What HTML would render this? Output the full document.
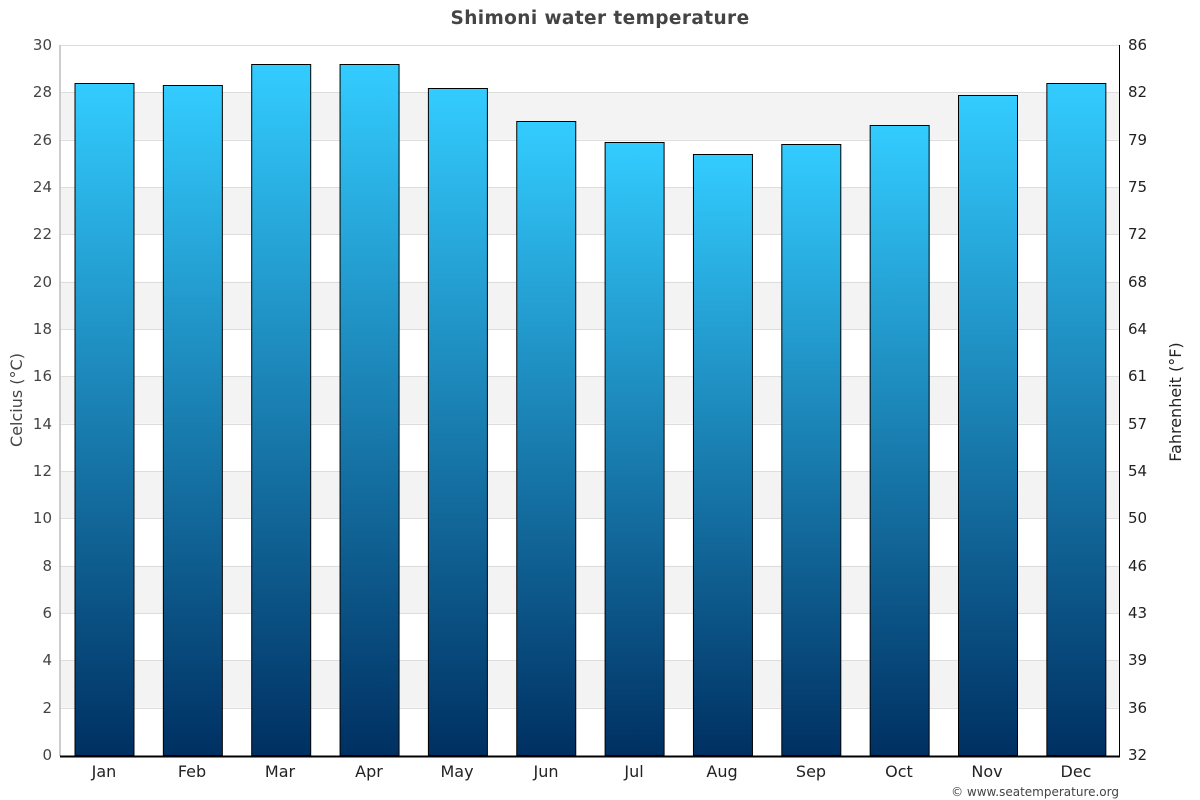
<!DOCTYPE html>
<html><head><meta charset="utf-8"><style>
html,body{margin:0;padding:0;background:#fff}
svg{display:block;font-family:"DejaVu Sans","Liberation Sans",sans-serif}
</style></head><body>
<svg id="s" width="1200" height="800" xmlns="http://www.w3.org/2000/svg">
<defs><linearGradient id="g" x1="0" y1="0" x2="0" y2="1">
<stop offset="0" stop-color="#33ccff"/><stop offset="1" stop-color="#003062"/></linearGradient></defs>
<rect width="1200" height="800" fill="#fff"/>
<g id="bands"></g>
<g id="bars"></g>
<line x1="60" y1="45" x2="60" y2="756" stroke="#999" stroke-width="1"/>
<line x1="1119.5" y1="45" x2="1119.5" y2="756" stroke="#000" stroke-width="1"/>
<line x1="60" y1="756.5" x2="1120" y2="756.5" stroke="#000" stroke-width="2"/>
<text x="600" y="24" text-anchor="middle" font-size="18.5" font-weight="bold" fill="#444" letter-spacing="0.4">Shimoni water temperature</text>
<g font-size="15" fill="#444" text-anchor="end">
<text x="52" y="50">30</text><text x="52" y="97">28</text><text x="52" y="145">26</text><text x="52" y="192">24</text>
<text x="52" y="239">22</text><text x="52" y="287">20</text><text x="52" y="334">18</text><text x="52" y="381">16</text>
<text x="52" y="429">14</text><text x="52" y="476">12</text><text x="52" y="523">10</text><text x="52" y="571">8</text>
<text x="52" y="618">6</text><text x="52" y="665">4</text><text x="52" y="713">2</text><text x="52" y="760">0</text>
</g>
<g font-size="15" fill="#222" text-anchor="start">
<text x="1128" y="50">86</text><text x="1128" y="97">82</text><text x="1128" y="145">79</text><text x="1128" y="192">75</text>
<text x="1128" y="239">72</text><text x="1128" y="287">68</text><text x="1128" y="334">64</text><text x="1128" y="381">61</text>
<text x="1128" y="429">57</text><text x="1128" y="476">54</text><text x="1128" y="523">50</text><text x="1128" y="571">46</text>
<text x="1128" y="618">43</text><text x="1128" y="665">39</text><text x="1128" y="713">36</text><text x="1128" y="760">32</text>
</g>
<g font-size="16" fill="#222" text-anchor="middle">
<text x="104" y="777">Jan</text><text x="192" y="777">Feb</text><text x="280" y="777">Mar</text><text x="369" y="777">Apr</text>
<text x="457" y="777">May</text><text x="546" y="777">Jun</text><text x="634" y="777">Jul</text><text x="722" y="777">Aug</text>
<text x="811" y="777">Sep</text><text x="899" y="777">Oct</text><text x="987" y="777">Nov</text><text x="1076" y="777">Dec</text>
</g>
<text transform="translate(22,400) rotate(-90)" text-anchor="middle" font-size="16" fill="#444">Celcius (°C)</text>
<text transform="translate(1181,402) rotate(-90)" text-anchor="middle" font-size="16" fill="#222">Fahrenheit (°F)</text>
<text x="1119" y="796" text-anchor="end" font-size="12" fill="#444">© www.seatemperature.org</text>
</svg>
<script>
var ns="http://www.w3.org/2000/svg",s=23.667,b=755;
function el(p,t,a){var e=document.createElementNS(ns,t);for(var k in a)e.setAttribute(k,a[k]);document.getElementById(p).appendChild(e);}
for(var v=2;v<30;v+=4){el("bands","rect",{x:61,y:b-(v+2)*s,width:1058,height:2*s,fill:"#f3f3f3"});}
for(var v=2;v<=30;v+=2){el("bands","line",{x1:61,x2:1119,y1:Math.round(b-v*s)+.5,y2:Math.round(b-v*s)+.5,stroke:"#ddd"});}
var d=[28.4,28.3,29.2,29.2,28.2,26.8,25.9,25.4,25.8,26.6,27.9,28.4];
d.forEach(function(v,i){var c=104.5+i*88.35,y=Math.round(b-v*s);el("bars","rect",{x:c-29.5,y:y+.5,width:59,height:b-y,fill:"url(#g)",stroke:"#000","stroke-width":1});});
</script>
</body></html>
